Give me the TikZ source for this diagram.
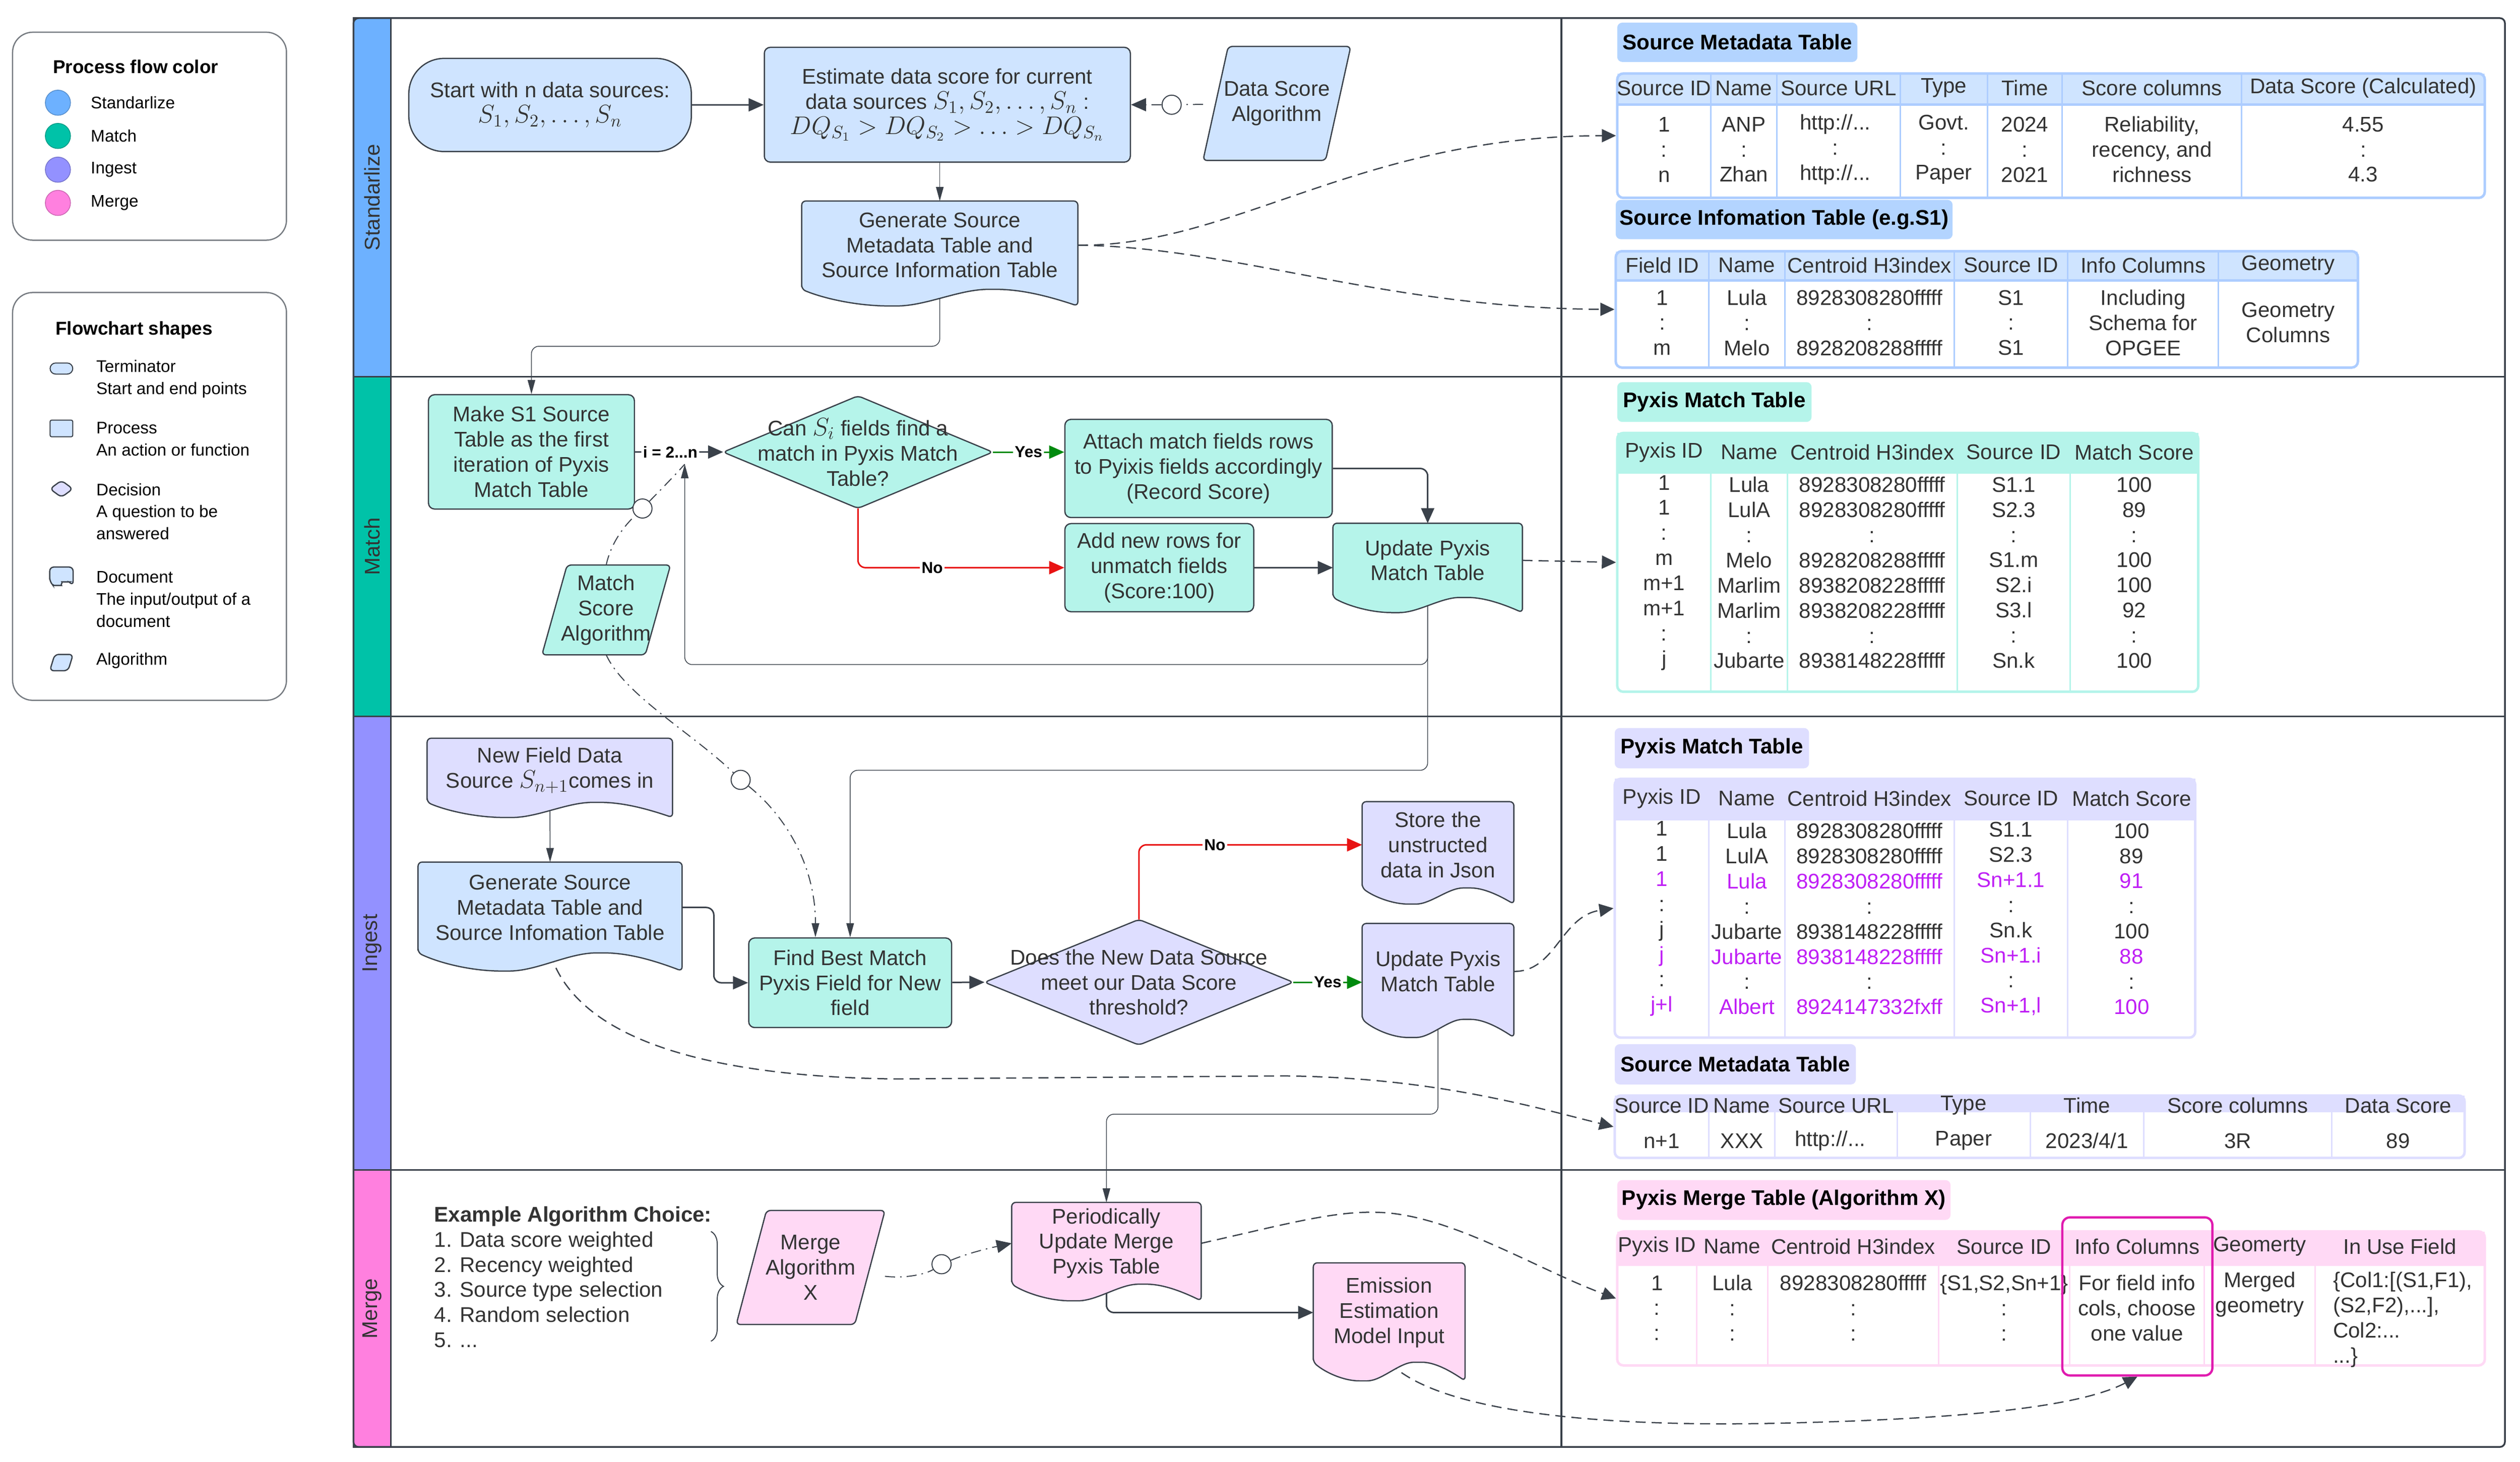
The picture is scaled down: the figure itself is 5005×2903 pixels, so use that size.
\documentclass[tikz,border=0pt]{standalone}
\usepackage{fontspec}
\setmainfont{Liberation Sans}
\usetikzlibrary{arrows.meta,calc,fit,decorations.pathreplacing}
\pgfdeclarelayer{lines}
\pgfdeclarelayer{shapes}
\pgfsetlayers{lines,shapes,main}

\definecolor{linegray}{HTML}{3A414A}
\definecolor{txtgray}{HTML}{333333}
\definecolor{stdcol}{HTML}{6DB1FF}
\definecolor{matchcol}{HTML}{00C2A8}
\definecolor{ingcol}{HTML}{9391FF}
\definecolor{mrgcol}{HTML}{FF80DF}
\definecolor{stdfill}{HTML}{CFE4FF}
\definecolor{matchfill}{HTML}{B5F4EA}
\definecolor{ingfill}{HTML}{DEDEFF}
\definecolor{mrgfill}{HTML}{FFD9F5}
\definecolor{stdtitle}{HTML}{B3D4FF}
\definecolor{stdline}{HTML}{ADCDFF}
\definecolor{yesgreen}{HTML}{008A0E}
\definecolor{nored}{HTML}{E81313}
\definecolor{purp}{HTML}{BF1FF5}
\definecolor{hilite}{HTML}{E01BAF}

\newcommand{\nodefont}{\fontsize{12}{14.2}\selectfont}
\newcommand{\mathbig}[1]{{\fontsize{14}{14.2}\selectfont$#1$}}
\newcommand{\pp}[1]{\textcolor{purp}{#1}}

% document shape behind a node: node, fill, wave depth
\newcommand{\docshape}[3]{%
  \begin{pgfonlayer}{shapes}
  \path[shapeline,fill=#2] (#1.south west) -- (#1.north west) -- (#1.north east)
    -- ($(#1.south east)+(0,#3)$)
    .. controls ($(#1.south west)!0.9!(#1.south east)+(0,{0.45*#3})$)
       and ($(#1.south west)!0.8!(#1.south east)$)
    .. ($(#1.south west)!0.69!(#1.south east)$)
    .. controls ($(#1.south west)!0.57!(#1.south east)$)
       and ($(#1.south west)!0.45!(#1.south east)+(0,#3)$)
    .. ($(#1.south west)!0.33!(#1.south east)+(0,#3)$)
    .. controls ($(#1.south west)!0.2!(#1.south east)+(0,#3)$)
       and ($(#1.south west)!0.08!(#1.south east)+(0,{0.55*#3})$)
    .. (#1.south west) -- cycle;
  \end{pgfonlayer}}
% algorithm shape: node, fill, slant
\newcommand{\algoshape}[3]{%
  \begin{pgfonlayer}{shapes}
  \path[shapeline,fill=#2] ($(#1.north west)+(#3,0)$) -- (#1.north east)
    -- ($(#1.south east)-(#3,0)$) -- (#1.south west) -- cycle;
  \end{pgfonlayer}}
% decision shape: node, fill
\newcommand{\diamshape}[2]{%
  \begin{pgfonlayer}{shapes}
  \path[shapeline,fill=#2] (#1.north) -- (#1.east) -- (#1.south) -- (#1.west) -- cycle;
  \end{pgfonlayer}}

\tikzset{
  every node/.style={text=txtgray,font=\nodefont},
  shapeline/.style={draw=linegray,line width=0.25mm,rounded corners=0.8mm},
  procbox/.style={draw=linegray,line width=0.25mm,rounded corners=1.2mm,align=center,inner sep=0pt},
  termbox/.style={procbox,rounded corners=7mm},
  shapebox/.style={align=center,inner sep=0pt},
  cell/.style={align=center,inner sep=0pt},
  tbltitle/.style={rounded corners=1mm,inner sep=0pt,text=black,font=\bfseries\nodefont},
  tblframe/.style={draw=#1,line width=0.5mm,rounded corners=1.2mm,inner sep=0pt},
  tblgrid/.style={draw=#1,line width=0.3mm},
  lanehead/.style={rotate=90,draw=linegray,line width=0.3mm,inner sep=0pt},
  frame/.style={draw=linegray,line width=0.35mm},
  flow/.style={draw=linegray,line width=0.3mm,rounded corners=1.5mm,-{Triangle[length=3mm,width=2.6mm]}},
  thinflow/.style={draw=linegray,line width=0.15mm,rounded corners=1.5mm,-{Triangle[length=2.8mm,width=1.5mm]}},
  yesflow/.style={flow,draw=yesgreen},
  noflow/.style={flow,draw=nored},
  assocline/.style={draw=linegray,line width=0.2mm,dash pattern=on 2mm off 1mm on 0.3mm off 1mm},
  ring/.style={circle,draw=linegray,fill=white,line width=0.2mm,minimum size=3.8mm,inner sep=0pt},
  dataflow/.style={draw=linegray,line width=0.25mm,dash pattern=on 2mm off 1.2mm,-{Triangle[length=2.8mm,width=2.6mm]}},
  edgelab/.style={fill=white,inner sep=1pt,text=black,font=\bfseries\fontsize{9}{10}\selectfont},
  legbox/.style={draw=linegray!70,line width=0.25mm,rounded corners=4mm,inner sep=0pt},
  legtitle/.style={anchor=west,text=black,font=\bfseries\fontsize{10.5}{12}\selectfont},
  legtext/.style={anchor=west,align=left,text=black,font=\fontsize{9.5}{12.5}\selectfont},
  dot/.style={circle,draw=#1!80!black,fill=#1,line width=0.15mm,minimum size=5mm,inner sep=0pt},
}

\begin{document}
\begin{tikzpicture}[x=0.1mm,y=-0.1mm]
\useasboundingbox (0,0) rectangle (5005,2903);

% legend
\node[legbox,fit={(25,64)(569,477)}] (legcolor) {};
\node[legtitle] (legcolortitle) at (93,132) {Process flow color};
\node[dot=stdcol] (dotstd) at (115,204) {};
\node[dot=matchcol] (dotmatch) at (115,270) {};
\node[dot=ingcol] (doting) at (115,337) {};
\node[dot=mrgcol] (dotmrg) at (115,403) {};
\node[legtext] (labstd) at (168,204) {Standarlize};
\node[legtext] (labmatch) at (168,270) {Match};
\node[legtext] (labing) at (168,337) {Ingest};
\node[legtext] (labmrg) at (168,403) {Merge};

\node[legbox,fit={(25,581)(569,1391)}] (legshape) {};
\node[legtitle] (legshapetitle) at (98,656) {Flowchart shapes};
\node[draw=linegray,line width=0.2mm,fill=stdfill,rounded corners=1.1mm,minimum width=4.5mm,minimum height=2.2mm,inner sep=0pt] (icterm) at (122,732) {};
\node[draw=linegray,line width=0.2mm,fill=stdfill,rounded corners=0.3mm,minimum width=4.5mm,minimum height=3.3mm,inner sep=0pt] (icproc) at (122,851) {};
\node[shapebox,minimum width=4.4mm,minimum height=3.2mm] (icdec) at (122,971) {};
\node[shapebox,minimum width=4.5mm,minimum height=2.8mm] (icdoc) at (122,1141) {};
\node[shapebox,minimum width=4.5mm,minimum height=3.1mm] (icalg) at (122,1316) {};
\diamshape{icdec}{ingfill}
\docshape{icdoc}{stdfill}{7}
\algoshape{icalg}{stdfill}{10}
\node[legtext] (labterm) at (179,753) {Terminator\\Start and end points};
\node[legtext] (labproc) at (179,872) {Process\\An action or function};
\node[legtext] (labdec) at (179,1016) {Decision\\A question to be\\answered};
\node[legtext] (labdoc) at (179,1190) {Document\\The input/output of a\\document};
\node[legtext] (labalg) at (179,1312) {Algorithm};

% lanes
\node[lanehead,fill=stdcol,minimum width=71.2mm,minimum height=7.4mm] (lanestd) at (739,392) {Standarlize};
\node[lanehead,fill=matchcol,minimum width=67.5mm,minimum height=7.4mm] (lanematch) at (739,1085.5) {Match};
\node[lanehead,fill=ingcol,minimum width=90.1mm,minimum height=7.4mm] (laneing) at (739,1873.5) {Ingest};
\node[lanehead,fill=mrgcol,minimum width=55mm,minimum height=7.4mm] (lanemrg) at (739,2599) {Merge};
\draw[frame,rounded corners=1mm] (702,36) rectangle (4975,2874);
\draw[frame] (702,748) -- (4975,748);
\draw[frame] (702,1423) -- (4975,1423);
\draw[frame] (702,2324) -- (4975,2324);
\draw[frame] (3101,36) -- (3101,2874);

% standardize
\node[termbox,fill=stdfill,minimum width=56.1mm,minimum height=18.5mm] (start) at (1092.5,208.5) {Start with n data sources:\\\mathbig{S_1,S_2,\ldots,S_n}};
\node[procbox,fill=stdfill,minimum width=72.7mm,minimum height=22.8mm] (est) at (1881.5,208) {Estimate data score for current\\data sources \mathbig{S_1,S_2,\ldots,S_n} :\\\mathbig{DQ_{S_1} > DQ_{S_2} >\ldots> DQ_{S_n}}};
\node[shapebox,minimum width=29.2mm,minimum height=22.5mm] (dsa) at (2536,205.5) {Data Score\\Algorithm};
\node[shapebox,minimum width=54.7mm,minimum height=17.4mm] (gen1) at (1866.5,487) {Generate Source\\Metadata Table and\\Source Information Table};
\algoshape{dsa}{stdfill}{50}
\docshape{gen1}{stdfill}{33}

% match
\node[procbox,fill=matchfill,minimum width=40.9mm,minimum height=22.7mm] (make) at (1055.5,897.5) {Make S1 Source\\Table as the first\\iteration of Pyxis\\Match Table};
\node[shapebox,minimum width=53.4mm,minimum height=22.2mm] (dec1) at (1704,898) {Can \mathbig{S_i} fields find a\\match in Pyxis Match\\Table?};
\node[procbox,fill=matchfill,minimum width=53.1mm,minimum height=19.5mm] (attach) at (2380.5,930.5) {Attach match fields rows\\to Pyixis fields accordingly\\(Record Score)};
\node[procbox,fill=matchfill,minimum width=37.5mm,minimum height=17.5mm] (add) at (2302.5,1127.5) {Add new rows for\\unmatch fields\\(Score:100)};
\node[shapebox,minimum width=37.5mm,minimum height=14.6mm] (upd1) at (2835.5,1113) {Update Pyxis\\Match Table};
\node[shapebox,minimum width=25.4mm,minimum height=17.7mm] (msa) at (1204,1211.5) {Match\\Score\\Algorithm};
\diamshape{dec1}{matchfill}
\docshape{upd1}{matchfill}{30}
\algoshape{msa}{matchfill}{50}

% ingest
\node[shapebox,minimum width=48.6mm,minimum height=12.6mm] (newsrc) at (1092,1530) {New Field Data\\Source \mathbig{S_{n+1}}comes in};
\node[shapebox,minimum width=52.3mm,minimum height=17.9mm] (gen2) at (1092.5,1802.5) {Generate Source\\Metadata Table and\\Source Infomation Table};
\node[procbox,fill=matchfill,minimum width=40.3mm,minimum height=17.8mm] (find) at (1688.5,1952) {Find Best Match\\Pyxis Field for New\\field};
\node[shapebox,minimum width=61.2mm,minimum height=24.8mm] (dec2) at (2262,1951) {Does the New Data Source\\meet our Data Score\\threshold?};
\node[shapebox,minimum width=30mm,minimum height=17mm] (store) at (2856,1678) {Store the\\unstructed\\data in Json};
\node[shapebox,minimum width=30mm,minimum height=18.9mm] (upd2) at (2856,1929.5) {Update Pyxis\\Match Table};
\docshape{newsrc}{ingfill}{30}
\docshape{gen2}{stdfill}{36}
\diamshape{dec2}{ingfill}
\docshape{store}{ingfill}{32}
\docshape{upd2}{ingfill}{36}

% merge
\node[anchor=west,align=left,inner sep=0pt] (alglist) at (862,2536.5) {\textbf{Example Algorithm Choice:}\\1. Data score weighted\\2. Recency weighted\\3. Source type selection\\4. Random selection\\5. ...};
\draw[draw=linegray,line width=0.2mm,decorate,decoration={brace,amplitude=2.5mm}] (1412,2446) -- (1412,2664);
\node[shapebox,minimum width=29.4mm,minimum height=22.5mm] (mag) at (1610,2517.5) {Merge\\Algorithm\\X};
\node[shapebox,minimum width=37.5mm,minimum height=16.1mm] (periodic) at (2197.5,2469.5) {Periodically\\Update Merge\\Pyxis Table};
\node[shapebox,minimum width=30mm,minimum height=19.6mm] (emis) at (2759,2607) {Emission\\Estimation\\Model Input};
\algoshape{mag}{mrgfill}{60}
\docshape{periodic}{mrgfill}{33}
\docshape{emis}{mrgfill}{37}

% rings on the algorithm links
\node[ring] (ring1) at (2327,208) {};
\node[ring] (ring2) at (1276,1010) {};
\node[ring] (ring3) at (1471,1549) {};
\node[ring] (ring4) at (1870,2511) {};

% source metadata table
\node[tbltitle,fill=stdtitle,minimum width=47.7mm,minimum height=7.8mm] (smttitle) at (3450.5,84) {Source Metadata Table};
\fill[stdfill] (3212,146) rectangle (4935,208);
\foreach \x in {3398,3529,3774,3947,4096,4452} \draw[tblgrid=stdline] (\x,146) -- (\x,393);
\draw[tblgrid=stdline,line width=0.5mm] (3212,208) -- (4935,208);
\node[tblframe=stdline,fit={(3212,146)(4935,393)}] (smt) {};
\foreach \x/\txt [count=\i] in {3305/Source ID,3463.5/Name,3651.5/Source URL,3860.5/Type,4021.5/Time,4274/Score columns,4693.5/Data Score (Calculated)}
  \node[cell] (smth\i) at (\x,175) {\txt};
\foreach \x/\txt [count=\i] in {3305/{1\\:\\n},3463.5/{ANP\\:\\Zhan},3645/{http://...\\:\\http://...},3860.5/{Govt.\\:\\Paper},4021.5/{2024\\:\\2021},4274/{Reliability,\\recency, and\\richness},4693.5/{4.55\\:\\4.3}}
  \node[cell] (smtb\i) at (\x,297) {\txt};

% source information table
\node[tbltitle,fill=stdtitle,minimum width=66.9mm,minimum height=7.8mm] (sittitle) at (3543.5,436) {Source Infomation Table (e.g.S1)};
\fill[stdfill] (3209,499) rectangle (4683,557);
\foreach \x in {3394,3545,3881,4107,4406} \draw[tblgrid=stdline] (\x,499) -- (\x,730);
\draw[tblgrid=stdline,line width=0.5mm] (3209,557) -- (4683,557);
\node[tblframe=stdline,fit={(3209,499)(4683,730)}] (sit) {};
\foreach \x/\txt [count=\i] in {3301.5/Field ID,3469.5/Name,3713/Centroid H3index,3994/Source ID,4256.5/Info Columns,4544.5/Geometry}
  \node[cell] (sith\i) at (\x,527) {\txt};
\foreach \x/\txt [count=\i] in {3301.5/{1\\:\\m},3469.5/{Lula\\:\\Melo},3713/{8928308280fffff\\:\\8928208288fffff},3994/{S1\\:\\S1},4256.5/{Including\\Schema for\\OPGEE},4544.5/{Geometry\\Columns}}
  \node[cell] (sitb\i) at (\x,641) {\txt};

% pyxis match table (match)
\node[tbltitle,fill=matchfill,minimum width=38.6mm,minimum height=7.9mm] (pmt1title) at (3405,798.5) {Pyxis Match Table};
\fill[matchfill] (3212,860) rectangle (4366,941);
\foreach \x in {3398,3550,3887,4112} \draw[tblgrid=matchfill] (\x,860) -- (\x,1374);
\node[tblframe=matchfill,fit={(3212,860)(4366,1374)}] (pmt1) {};
\foreach \x/\txt [count=\i] in {3305/Pyxis ID,3474/Name,3718.5/Centroid H3index,3999.5/Source ID,4239/Match Score}
  \node[cell] (pmt1h\i) at (\x,898) {\txt};
\foreach \x/\txt [count=\i] in {3305/{1\\1\\:\\m\\m+1\\m+1\\:\\j},3474/{Lula\\LulA\\:\\Melo\\Marlim\\Marlim\\:\\Jubarte},3718.5/{8928308280fffff\\8928308280fffff\\:\\8928208288fffff\\8938208228fffff\\8938208228fffff\\:\\8938148228fffff},3999.5/{S1.1\\S2.3\\:\\S1.m\\S2.i\\S3.l\\:\\Sn.k},4239/{100\\89\\:\\100\\100\\92\\:\\100}}
  \node[cell] (pmt1b\i) at (\x,1137.5) {\txt};

% pyxis match table (ingest)
\node[tbltitle,fill=ingfill,minimum width=38.6mm,minimum height=8mm] (pmt2title) at (3400,1486) {Pyxis Match Table};
\fill[ingfill] (3207,1547) rectangle (4360,1630);
\foreach \x in {3394,3545,3881,4107} \draw[tblgrid=ingfill] (\x,1547) -- (\x,2061);
\node[tblframe=ingfill,fit={(3207,1547)(4360,2061)}] (pmt2) {};
\foreach \x/\txt [count=\i] in {3300.5/Pyxis ID,3469.5/Name,3713/Centroid H3index,3994/Source ID,4233.5/Match Score}
  \node[cell] (pmt2h\i) at (\x,1586) {\txt};
\foreach \x/\txt [count=\i] in {3300.5/{1\\1\\\pp{1}\\:\\j\\\pp{j}\\:\\\pp{j+l}},3469.5/{Lula\\LulA\\\pp{Lula}\\:\\Jubarte\\\pp{Jubarte}\\:\\\pp{Albert}},3713/{8928308280fffff\\8928308280fffff\\\pp{8928308280fffff}\\:\\8938148228fffff\\\pp{8938148228fffff}\\:\\\pp{8924147332fxff}},3994/{S1.1\\S2.3\\\pp{Sn+1.1}\\:\\Sn.k\\\pp{Sn+1.i}\\:\\\pp{Sn+1,l}},4233.5/{100\\89\\\pp{91}\\:\\100\\\pp{88}\\:\\\pp{100}}}
  \node[cell] (pmt2b\i) at (\x,1825) {\txt};

% source metadata table (ingest)
\node[tbltitle,fill=ingfill,minimum width=47.9mm,minimum height=8mm] (smt2title) at (3446.5,2114) {Source Metadata Table};
\fill[ingfill] (3207,2176) rectangle (4895,2209);
\foreach \x in {3394,3525,3768,4032,4258,4631} \draw[tblgrid=ingfill] (\x,2176) -- (\x,2300);
\node[tblframe=ingfill,fit={(3207,2176)(4895,2300)}] (smt2) {};
\foreach \x/\txt [count=\i] in {3300.5/Source ID,3459.5/Name,3646.5/Source URL,3900/Type,4145/Time,4444.5/Score columns,4763/Data Score}
  \node[cell] (smt2h\i) at (\x,2196) {\txt};
\foreach \x/\txt [count=\i] in {3300.5/n+1,3459.5/XXX,3635/{http://...},3900/Paper,4145/{2023/4/1},4444.5/3R,4763/89}
  \node[cell] (smt2b\i) at (\x,2266) {\txt};

% pyxis merge table
\node[tbltitle,fill=mrgfill,minimum width=66.2mm,minimum height=7.9mm] (pmrgtitle) at (3543,2383.5) {Pyxis Merge Table (Algorithm X)};
\fill[mrgfill] (3212,2446) rectangle (4935,2514);
\foreach \x in {3370,3511,3850,4111,4378,4598} \draw[tblgrid=mrgfill] (\x,2446) -- (\x,2712);
\node[tblframe=mrgfill,fit={(3212,2446)(4935,2712)}] (pmerge) {};
\foreach \x/\txt [count=\i] in {3291/Pyxis ID,3440.5/Name,3680.5/Centroid H3index,3980.5/Source ID,4244.5/Info Columns,4488/Geomerty,4766.5/In Use Field}
  \node[cell] (pmrgh\i) at (\x,2476) {\txt};
\foreach \x/\txt [count=\i] in {3291/{1\\:\\:},3440.5/{Lula\\:\\:},3680.5/{8928308280fffff\\:\\:},3980.5/{\{S1,S2,Sn+1\}\\:\\:},4244.5/{For field info\\cols, choose\\one value}}
  \node[cell] (pmrgb\i) at (\x,2598) {\txt};
\node[cell] (pmrgb6) at (4488,2571) {Merged\\geometry};
\node[cell,anchor=west,align=left] (pmrgb7) at (4633,2621) {\{Col1:[(S1,F1),\\(S2,F2),...],\\Col2:...\\...\}};
\node[draw=hilite,line width=0.45mm,rounded corners=1.5mm,inner sep=0pt,fit={(4096,2418)(4394,2732)}] (hl) {};

% connectors
\coordinate (loopin) at (1360,922);
\coordinate (loopbot) at (1360,1320);
\coordinate (ingbend) at (2835,1530);
\coordinate (mrgbend) at (2856,2213);
\begin{pgfonlayer}{lines}
\draw[flow] (start) -- (est);
\draw[assocline,-{Triangle[length=3mm,width=2.6mm]}] (dsa) -- (ring1) -- (est.east);
\draw[thinflow] (est.south -| gen1.north) -- (gen1.north);
\draw[thinflow] (gen1.south) -- ++(0,113) -| (make.north);
\draw[dataflow] (gen1.east) .. controls (2450,490) and (2700,270) .. (smt.west);
\draw[dataflow] (gen1.east) .. controls (2450,490) and (2750,612) .. (sit.west);

\draw[flow] (make) -- node[edgelab,pos=0.4] (labi) {i = 2...n} (dec1);
\draw[yesflow] (dec1.east) -- node[edgelab] (labyes1) {Yes} (dec1.east -| attach.west);
\draw[noflow] (dec1.south) |- node[edgelab,pos=0.68] (labno1) {No} (add.west);
\draw[flow] (add) -- (add -| upd1.west);
\draw[flow] (attach.east) -| (upd1.north);
\draw[thinflow] (upd1) |- (loopbot) -- (loopin);
\draw[assocline] (msa.north) .. controls (1215,1070) and (1250,1035) .. (ring2) .. controls (1305,980) and (1335,950) .. (loopin);
\draw[dataflow] (upd1.east) -- (pmt1.west);

\draw[assocline,-{Triangle[length=2.8mm,width=1.5mm]}] (msa.south) .. controls (1240,1380) and (1380,1460) .. (ring3) .. controls (1560,1620) and (1620,1720) .. ($(find.north)+(-69,0)$);
\draw[thinflow] (upd1) -- (upd1 |- ingbend) -| (find.north);
\draw[thinflow] (newsrc) -- (gen2.north);
\draw[flow] (gen2.east) -- ++(63,0) |- (find.west);
\draw[flow] (find) -- (dec2.west);
\draw[noflow] (dec2.north) |- node[edgelab,pos=0.67] (labno2) {No} (store.west);
\draw[yesflow] (dec2.east) -- node[edgelab] (labyes2) {Yes} (dec2.east -| upd2.west);
\draw[dataflow] (upd2.east) .. controls (3090,1930) and (3100,1820) .. (pmt2.west);
\draw[dataflow] (gen2.south) .. controls (1150,2080) and (1450,2140) .. (1784,2143) -- (2550,2137) .. controls (2850,2140) and (3050,2200) .. (smt2.west);
\draw[thinflow] (upd2) -- (upd2 |- mrgbend) -| (periodic.north);

\draw[assocline,-{Triangle[length=3mm,width=2.6mm]}] (mag) .. controls (1800,2540) and (1840,2530) .. (ring4) .. controls (1920,2490) and (1960,2480) .. (periodic.west);
\draw[flow] (periodic) |- (emis.west);
\draw[dataflow] (periodic.east) .. controls (2560,2430) and (2650,2405) .. (2737,2408) .. controls (2880,2412) and (3050,2520) .. (pmerge.west);
\draw[dataflow] (emis.south) .. controls (2850,2800) and (3150,2835) .. (3525,2827) .. controls (3850,2820) and (4120,2800) .. (hl.south);
\end{pgfonlayer}
\end{tikzpicture}
\end{document}
